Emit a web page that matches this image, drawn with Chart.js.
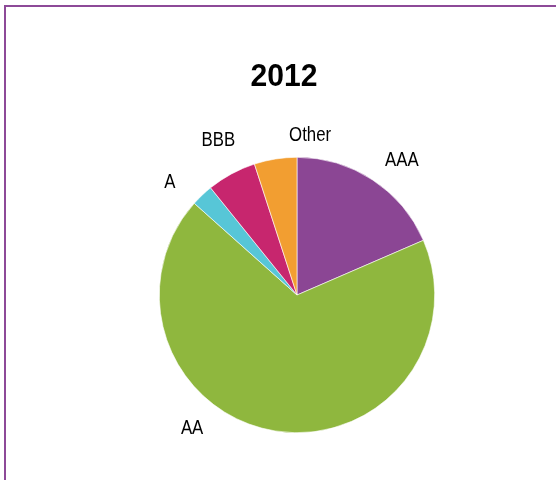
<!DOCTYPE html>
<html>
<head>
<meta charset="utf-8">
<script src="https://cdn.jsdelivr.net/npm/chart.js@4.4.0/dist/chart.umd.min.js"></script>
<style>
  html, body { margin: 0; padding: 0; background: #fff; }
  #wrap { position: relative; width: 556px; height: 480px; overflow: hidden; }
  #frame { position: absolute; left: 4px; top: 5px; width: 600px; height: 520px; border: 2px solid #8d4a98; }
  #wrap canvas { position: absolute; left: 0; top: 0; }
</style>
</head>
<body>
<div id="wrap">
  <div id="frame"></div>
  <canvas id="ratingChart" width="556" height="480"></canvas>
</div>
<script>
var chartTitle = '2012';
var ratings = ['AAA', 'AA', 'A', 'BBB', 'Other'];
var shares = [18.5, 68.1, 2.6, 5.8, 5.0];
var sliceColors = ['#8b4694', '#8fb73e', '#57c6d7', '#c7266e', '#f29e31'];

// label placement tweaks (degrees, px) to sit where the original put them
var labelShift = {
	'AAA': [4.6, 33],
	'AA': [29, 32],
	'A': [-5, 32],
	'BBB': [1.5, 36],
	'Other': [13.7, 22]
};

// the original uses a narrow face; squeeze the regular one horizontally
function narrowText(ctx, text, x, y, squeeze) {
	ctx.save();
	ctx.translate(x, y);
	ctx.scale(squeeze, 1);
	ctx.fillText(text, 0, 0);
	ctx.restore();
}

var labelPlugin = {
	id: 'pieLabels',
	afterDraw: function(chart) {
		var ctx = chart.ctx;
		ctx.save();
		ctx.fillStyle = '#000';
		ctx.textAlign = 'center';
		ctx.textBaseline = 'middle';
		ctx.font = 'bold 32px "Liberation Sans", Arial, sans-serif';
		narrowText(ctx, chartTitle, 284, 77, 0.94);

		ctx.font = '20px "Liberation Sans", Arial, sans-serif';
		var arcs = chart.getDatasetMeta(0).data;
		for (var i = 0; i < arcs.length; i++) {
			var a = arcs[i];
			var shift = labelShift[ratings[i]] || [0, 30];
			var mid = (a.startAngle + a.endAngle) / 2 + shift[0] * Math.PI / 180;
			var r = a.outerRadius + shift[1];
			narrowText(ctx, ratings[i], a.x + Math.cos(mid) * r, a.y + Math.sin(mid) * r, 0.84);
		}
		ctx.restore();
	}
};

var ctx = document.getElementById('ratingChart');
var ratingChart = new Chart(ctx, {
	type: 'pie',
	data: {
		labels: ratings,
		datasets: [{
			data: shares,
			backgroundColor: sliceColors,
			borderColor: '#ffffff',
			borderWidth: 0.6
		}]
	},
	options: {
		responsive: false,
		animation: false,
		layout: {
			padding: { top: 157, bottom: 47, left: 158, right: 120 }
		},
		plugins: {
			legend: { display: false },
			title: { display: false },
			tooltip: { enabled: false }
		}
	},
	plugins: [labelPlugin]
});
</script>
</body>
</html>
